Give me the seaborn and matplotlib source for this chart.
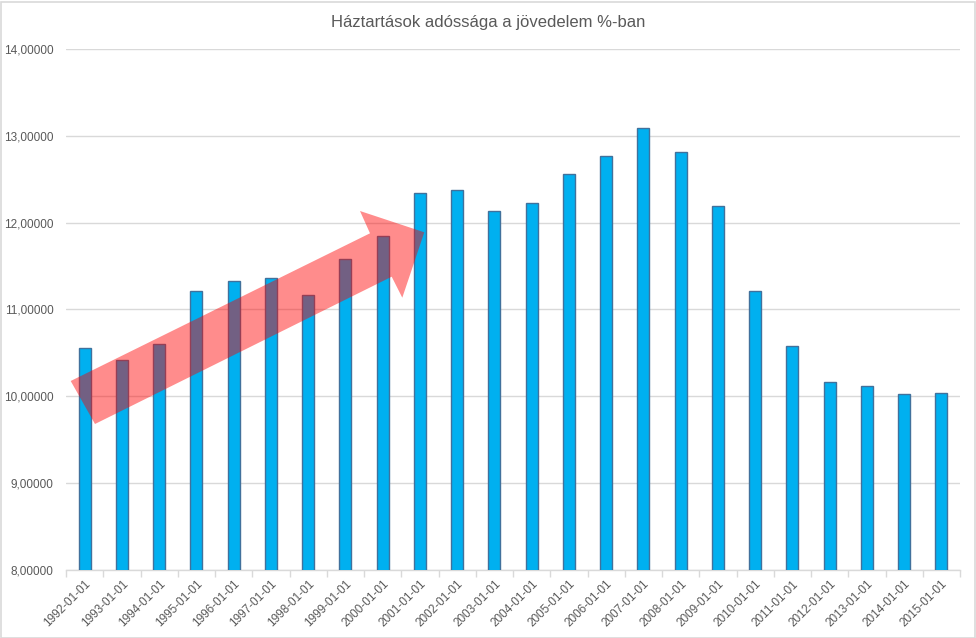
import matplotlib
matplotlib.use("Agg")
import matplotlib.pyplot as plt
from matplotlib.patches import Polygon, Rectangle
from matplotlib.ticker import FuncFormatter, FixedLocator
import seaborn as sns
import pandas as pd

years = [str(y) + "-01-01" for y in range(1992, 2016)]
values = [10.55, 10.42, 10.60, 11.21, 11.33, 11.36, 11.17, 11.58, 11.85, 12.34,
          12.38, 12.13, 12.22, 12.56, 12.77, 13.09, 12.81, 12.19, 11.21, 10.58,
          10.16, 10.12, 10.03, 10.04]
title = "Háztartások adóssága a jövedelem %-ban"

sns.set_theme(style="white")
plt.rcParams['font.family'] = ['Liberation Sans', 'DejaVu Sans']

df = pd.DataFrame({"date": years, "value": values})

W, H = 976, 638
fig = plt.figure(figsize=(W / 100, H / 100), dpi=100)
ax = fig.add_axes([66 / W, 1 - 569.7 / H, (960 - 66) / W, (569.7 - 49) / H])

sns.barplot(data=df, x="date", y="value", color="#00B0F0", saturation=1,
            width=0.32, edgecolor="#41719C", linewidth=1.0, ax=ax, zorder=3)

ax.set_ylim(8, 14)
ax.set_xlim(-0.5, len(years) - 0.5)
ax.set_yticks([8, 9, 10, 11, 12, 13, 14])
ax.yaxis.set_major_formatter(FuncFormatter(lambda v, p: f"{v:.5f}".replace(".", ",")))
ax.grid(axis="y", color="#D9D9D9", linewidth=1, zorder=0)
ax.set_axisbelow(True)
for s in ["top", "right", "left"]:
    ax.spines[s].set_visible(False)
ax.spines["bottom"].set_color("#D9D9D9")
ax.spines["bottom"].set_linewidth(1)
ax.set_xlabel("")
ax.set_ylabel("")
ax.tick_params(axis="y", length=0, labelsize=8.5, labelcolor="#595959", pad=9)
ax.tick_params(axis="x", which="major", length=0, labelsize=8.5, labelcolor="#595959", pad=6)
ax.xaxis.set_minor_locator(FixedLocator([i - 0.5 for i in range(len(years) + 1)]))
ax.tick_params(axis="x", which="minor", length=5, color="#D9D9D9", width=1, bottom=True)
plt.setp(ax.get_xticklabels(), rotation=45, ha="right", rotation_mode="anchor")

fig.text(0.5, 1 - 22 / H, title, ha="center", va="center", fontsize=12, color="#595959")

# decorative arrow (pixel coordinates of the figure)
arrow_px = [(70.7, 381), (370, 233.3), (360, 211), (424.3, 232.3), (402.3, 297.7),
            (391.7, 276.7), (95, 424)]
arrow_fig = [(x / W, 1 - y / H) for x, y in arrow_px]
fig.patches.append(Polygon(arrow_fig, closed=True, transform=fig.transFigure,
                           facecolor="#FF0000", alpha=0.45, edgecolor="none", zorder=10))

fig.patches.append(Rectangle((0.5 / W, 0.5 / H), 1 - 2 / W, 1 - 2 / H, transform=fig.transFigure,
                             facecolor="none", edgecolor="#D9D9D9", linewidth=1.2))

fig.savefig("out.png", dpi=100, facecolor="white")
